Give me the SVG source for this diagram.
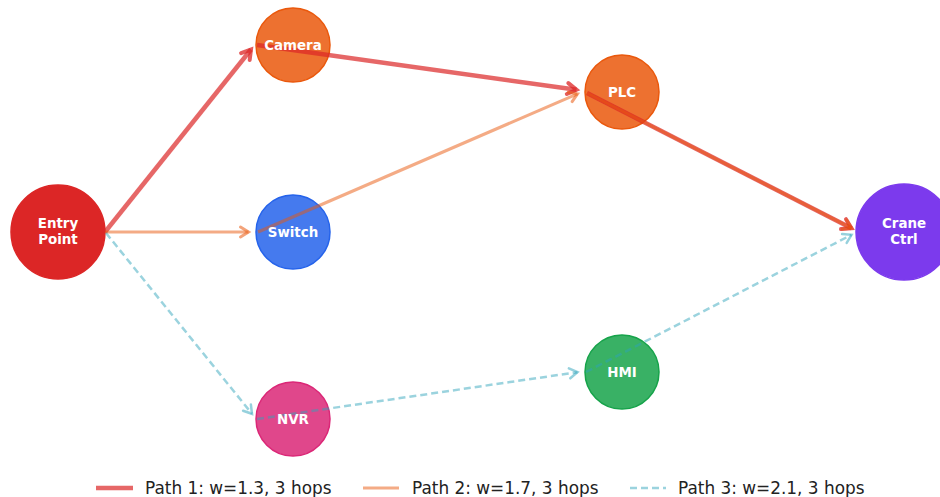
<svg xmlns="http://www.w3.org/2000/svg" width="940" height="497" viewBox="0 0 940 497">
  <style>
    .node circle { stroke-width: 1.5; }
    .lbl { font-family: "DejaVu Sans", "Liberation Sans", sans-serif; font-weight: bold; font-size: 13.4px; fill: #ffffff; text-anchor: middle; }
    .legend text { font-family: "DejaVu Sans", "Liberation Sans", sans-serif; font-size: 16.9px; fill: #222222; }
    .p1 { stroke: #dc2626; stroke-opacity: 0.7; stroke-width: 4.5; fill: none; }
    .p2 { stroke: #ea580c; stroke-opacity: 0.5; stroke-width: 3; fill: none; }
    .p3 { stroke: #2ea3bb; stroke-opacity: 0.48; stroke-width: 2.5; stroke-dasharray: 7 4; fill: none; }
    .hd { fill: none; stroke-linecap: round; stroke-linejoin: miter; }
  </style>
  <defs>
    <!-- open chevron arrowheads, one per path style -->
    <marker id="a1" markerUnits="userSpaceOnUse" markerWidth="20" markerHeight="20" refX="0" refY="0" orient="auto" overflow="visible">
      <path class="hd" d="M-9,-5.5 L0,0 L-9,5.5" stroke="#dc2626" stroke-opacity="0.75" stroke-width="4"/>
    </marker>
    <marker id="a2" markerUnits="userSpaceOnUse" markerWidth="20" markerHeight="20" refX="0" refY="0" orient="auto" overflow="visible">
      <path class="hd" d="M-8,-5 L0,0 L-8,5" stroke="#ea580c" stroke-opacity="0.55" stroke-width="3"/>
    </marker>
    <marker id="a3" markerUnits="userSpaceOnUse" markerWidth="20" markerHeight="20" refX="0" refY="0" orient="auto" overflow="visible">
      <path class="hd" d="M-8,-5 L0,0 L-8,5" stroke="#2ea3bb" stroke-opacity="0.5" stroke-width="2.5"/>
    </marker>
  </defs>

  <rect width="940" height="497" fill="#ffffff"/>

  <!-- nodes -->
  <g id="nodes">
    <g id="entry" class="node"><circle cx="58" cy="232" r="47" fill="#dc2626" stroke="#dc2626"/></g>
    <g id="camera" class="node"><circle cx="293" cy="45" r="37" fill="#ea580c" fill-opacity="0.85" stroke="#ea580c"/></g>
    <g id="switch" class="node"><circle cx="293" cy="232" r="37" fill="#2563eb" fill-opacity="0.85" stroke="#2563eb"/></g>
    <g id="nvr" class="node"><circle cx="293" cy="419" r="37" fill="#db2777" fill-opacity="0.85" stroke="#db2777"/></g>
    <g id="plc" class="node"><circle cx="622" cy="92" r="37" fill="#ea580c" fill-opacity="0.85" stroke="#ea580c"/></g>
    <g id="hmi" class="node"><circle cx="622" cy="372" r="37" fill="#16a34a" fill-opacity="0.85" stroke="#16a34a"/></g>
    <g id="crane" class="node"><circle cx="904" cy="232" r="48" fill="#7c3aed" stroke="#7c3aed"/></g>
  </g>

  <!-- connectors -->
  <g id="connectors">
    <!-- path 1 -->
    <line class="p1" x1="105" y1="232" x2="251" y2="49.5" marker-end="url(#a1)"/>
    <line class="p1" x1="257" y1="45" x2="576.5" y2="89.8" marker-end="url(#a1)"/>
    <line class="p1" x1="587" y1="93" x2="851.5" y2="228.2" marker-end="url(#a1)"/>
    <!-- path 2 -->
    <line class="p2" x1="105" y1="232" x2="248.5" y2="232" marker-end="url(#a2)"/>
    <line class="p2" x1="258" y1="232" x2="577.5" y2="93.8" marker-end="url(#a2)"/>
    <line class="p2" x1="587" y1="93" x2="851.5" y2="228.2" marker-end="url(#a2)"/>
    <!-- path 3 -->
    <line class="p3" x1="106" y1="233" x2="252" y2="413.8" marker-end="url(#a3)"/>
    <line class="p3" x1="257" y1="419" x2="577.5" y2="372.2" marker-end="url(#a3)"/>
    <line class="p3" x1="586" y1="372" x2="851.5" y2="234.8" marker-end="url(#a3)"/>
  </g>

  <!-- node labels -->
  <g id="labels">
    <text class="lbl" x="58" y="228">Entry</text>
    <text class="lbl" x="58" y="244">Point</text>
    <text class="lbl" x="293" y="50">Camera</text>
    <text class="lbl" x="293" y="237">Switch</text>
    <text class="lbl" x="293" y="424">NVR</text>
    <text class="lbl" x="622" y="97">PLC</text>
    <text class="lbl" x="622" y="377">HMI</text>
    <text class="lbl" x="904" y="228">Crane</text>
    <text class="lbl" x="904" y="244">Ctrl</text>
  </g>

  <!-- legend -->
  <g class="legend">
    <line class="p1" x1="96" y1="488" x2="133" y2="488"/>
    <text x="145" y="494">Path 1: w=1.3, 3 hops</text>
    <line class="p2" x1="363" y1="488" x2="399" y2="488"/>
    <text x="412" y="494">Path 2: w=1.7, 3 hops</text>
    <line class="p3" x1="630" y1="488" x2="666" y2="488"/>
    <text x="678" y="494">Path 3: w=2.1, 3 hops</text>
  </g>
</svg>
